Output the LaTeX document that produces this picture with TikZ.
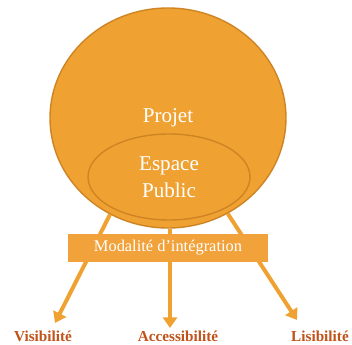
\documentclass[tikz,border=0pt]{standalone}
\usepackage{fontspec}
\setmainfont{Liberation Serif}
\usetikzlibrary{shapes.geometric, arrows.meta, positioning}
\definecolor{orfill}{HTML}{EFA232}
\definecolor{orline}{HTML}{CF8424}
\definecolor{orbox}{HTML}{F2A23A}
\definecolor{ortext}{HTML}{C0521A}

\begin{document}
\begin{tikzpicture}[x=0.03cm, y=-0.03cm,
    link/.style={orfill, line width=3.4pt, -{Triangle[width=12pt, length=9pt]}},
    outcome/.style={ortext, font=\fontsize{13}{15}\selectfont\bfseries}]
    \useasboundingbox (0,0) rectangle (352,345);

    % Projet and espace public
    \node[ellipse, draw=orline, line width=1.2pt, fill=orfill, minimum width=7.08cm, minimum height=6.6cm,
          text=white, font=\fontsize{18}{23}\selectfont] (projet) at (168,118) {Projet};
    \node[ellipse, draw=orline, line width=1.2pt, fill=orfill, minimum width=4.86cm, minimum height=2.58cm,
          text=white, align=center, font=\fontsize{18}{23}\selectfont] (espace) at (169,177) {Espace\\Public};

    % Arrow ends
    \coordinate (tipv) at (55,323);
    \coordinate (tipa) at (170,328);
    \coordinate (tipl) at (297,320);

    % Arrows
    \draw[link] (projet.239) -- (tipv);
    \draw[link] (projet.south -| tipa) -- (tipa);
    \draw[link] (projet.302) -- (tipl);

    % Modalite
    \node[fill=orbox, minimum width=6cm, minimum height=0.84cm, text=white,
          font=\fontsize{14}{16}\selectfont] (modalite) at (168,248) {Modalité d'intégration};

    % Labels
    \node[outcome] (visib) at (43,336) {Visibilité};
    \node[outcome] (access) at (178,336) {Accessibilité};
    \node[outcome] (lisib) at (320,336) {Lisibilité};
\end{tikzpicture}
\end{document}
